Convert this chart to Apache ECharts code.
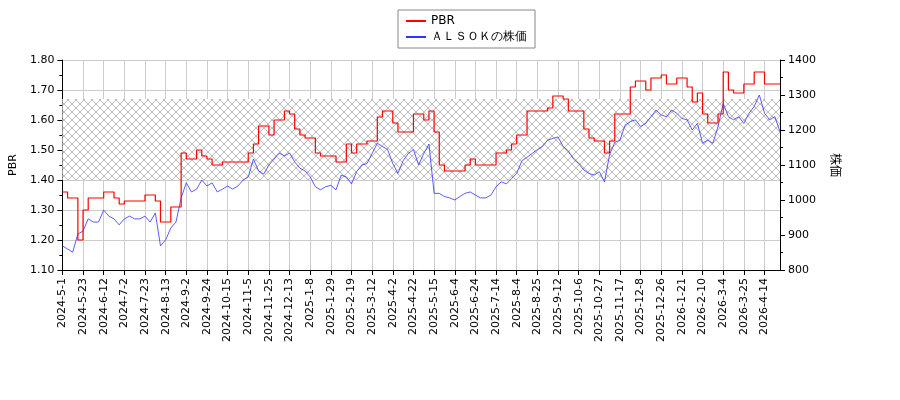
<!DOCTYPE html>
<html><head><meta charset="utf-8">
<script src="https://cdn.jsdelivr.net/npm/echarts@6/dist/echarts.min.js"></script>
<style>body{margin:0}#c{width:900px;height:400px}</style></head>
<body><div id="c"></div>
<script>
const tickLabels = ["2024-5-1","2024-5-23","2024-6-12","2024-7-2","2024-7-23","2024-8-13","2024-9-2","2024-9-24","2024-10-15","2024-11-5","2024-11-25","2024-12-13","2025-1-8","2025-1-29","2025-2-19","2025-3-12","2025-4-2","2025-4-22","2025-5-15","2025-6-4","2025-6-24","2025-7-14","2025-8-4","2025-8-25","2025-9-12","2025-10-6","2025-10-27","2025-11-17","2025-12-8","2025-12-26","2026-1-21","2026-2-10","2026-3-4","2026-3-25","2026-4-14"];
const pbr = [1.36,1.34,1.34,1.20, 1.30,1.34,1.34,1.34, 1.36,1.36,1.34,1.32, 1.33,1.33,1.33,1.33, 1.35,1.35,1.33,1.26,
 1.26,1.31,1.31,1.49, 1.47,1.47,1.50,1.48, 1.47,1.45,1.45,1.46, 1.46,1.46,1.46,1.46, 1.49,1.52,1.58,1.58,
 1.55,1.60,1.60,1.63, 1.62,1.57,1.55,1.54, 1.54,1.49,1.48,1.48, 1.48,1.46,1.46,1.52, 1.49,1.52,1.52,1.53,
 1.53,1.61,1.63,1.63, 1.59,1.56,1.56,1.56, 1.62,1.62,1.60,1.63, 1.56,1.45,1.43,1.43, 1.43,1.43,1.45,1.47,
 1.45,1.45,1.45,1.45, 1.49,1.49,1.50,1.52, 1.55,1.55,1.63,1.63, 1.63,1.63,1.64,1.68, 1.68,1.67,1.63,1.63,
 1.63,1.57,1.54,1.53, 1.53,1.49,1.53,1.62, 1.62,1.62,1.71,1.73, 1.73,1.70,1.74,1.74, 1.75,1.72,1.72,1.74,
 1.74,1.71,1.66,1.69, 1.62,1.59,1.59,1.62, 1.76,1.70,1.69,1.69, 1.72,1.72,1.76,1.76, 1.72,1.72,1.72,1.72];
const price = [869,860,851,903, 911,946,937,937, 971,954,946,929, 946,954,946,946, 954,937,963,869,
 886,920,937,1006, 1049,1023,1031,1057, 1040,1049,1023,1031, 1040,1031,1040,1057, 1066,1117,1083,1074,
 1100,1117,1134,1126, 1134,1109,1091,1083, 1066,1038,1029,1038, 1042,1029,1071,1066, 1046,1081,1100,1104,
 1133,1162,1153,1144, 1104,1076,1112,1133, 1144,1100,1133,1160, 1019,1019,1010,1006, 1000,1010,1019,1023,
 1014,1006,1006,1014, 1038,1052,1046,1061, 1076,1112,1122,1133, 1144,1153,1171,1176, 1180,1153,1140,1117,
 1104,1086,1076,1071, 1081,1052,1130,1165, 1171,1214,1224,1229, 1210,1219,1238,1257, 1243,1238,1257,1248,
 1233,1229,1200,1219, 1162,1171,1162,1210, 1276,1238,1229,1238, 1219,1248,1267,1300, 1248,1229,1238,1195];
const categories = pbr.map((_, i) => (i % 4 === 0 && tickLabels[i / 4]) ? tickLabels[i / 4] : ' ' + i);

const pc = document.createElement('canvas'); pc.width = 8; pc.height = 8;
const g = pc.getContext('2d'); g.fillStyle = '#fff'; g.fillRect(0,0,8,8);
g.strokeStyle = '#aaa'; g.lineWidth = 0.8;
g.beginPath(); g.moveTo(0,0); g.lineTo(8,8); g.moveTo(8,0); g.lineTo(0,8); g.stroke();

const font = {fontFamily:'DejaVu Sans', fontSize:11, color:'#000'};
const chart = echarts.init(document.getElementById('c'));
chart.setOption({
  animation:false,
  legend:{orient:'vertical', left:398, top:10, padding:[5,8], itemGap:4, borderColor:'#888', borderWidth:1,
    itemWidth:20, itemHeight:2, textStyle:{fontFamily:'DejaVu Sans', fontSize:12, color:'#000'},
    data:[{name:'PBR', icon:'rect'},{name:'ＡＬＳＯＫの株価', icon:'rect'}]},
  grid:{left:60, right:120, top:60, bottom:130},
  xAxis:{type:'category', data:categories, boundaryGap:false,
    axisLine:{lineStyle:{color:'#000'}}, axisTick:{interval:3, lineStyle:{color:'#000'}},
    axisLabel:Object.assign({interval:3, rotate:90, formatter:v=>v.startsWith(' ')?'':v}, font),
    splitLine:{show:true, interval:3, lineStyle:{color:'#ccc'}}},
  yAxis:[
    {type:'value', min:1.1, max:1.8, interval:0.1, name:'PBR', nameLocation:'middle', nameGap:33, nameRotate:90,
     nameTextStyle:font, axisLine:{show:true, lineStyle:{color:'#000'}}, axisTick:{show:true},
     minorTick:{show:true, splitNumber:2}, axisLabel:Object.assign({formatter:v=>v.toFixed(2)}, font),
     splitLine:{lineStyle:{color:'#ccc'}}},
    {type:'value', min:800, max:1400, interval:100, name:'株価', nameLocation:'middle', nameGap:50, nameRotate:-90,
     nameTextStyle:Object.assign({}, font, {fontFamily:'Noto Sans CJK JP', fontSize:12}),
     axisLine:{show:true, lineStyle:{color:'#000'}}, axisTick:{show:true}, minorTick:{show:true, splitNumber:2},
     axisLabel:Object.assign({formatter:v=>String(v)}, font), splitLine:{show:false}}
  ],
  series:[
    {name:'PBR', type:'line', data:pbr, step:'end', symbol:'none', z:3, lineStyle:{color:'#f00', width:1.2}, itemStyle:{color:'#f00'},
     markArea:{silent:true, itemStyle:{color:{image:pc, repeat:'repeat'}}, data:[[{yAxis:1.40},{yAxis:1.67}]]}},
    {name:'ＡＬＳＯＫの株価', type:'line', yAxisIndex:1, data:price, symbol:'none', z:2, lineStyle:{color:'#33f', width:0.8}, itemStyle:{color:'#33f'}}
  ]
});
</script></body></html>
